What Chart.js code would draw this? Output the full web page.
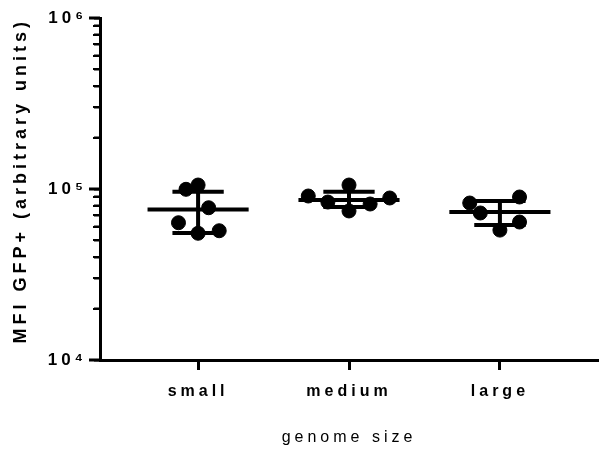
<!DOCTYPE html>
<html>
<head>
<meta charset="utf-8">
<script src="https://cdn.jsdelivr.net/npm/chart.js@4.4.0/dist/chart.umd.min.js"></script>
<style>
html,body{margin:0;padding:0;background:#fff}
#wrap{width:606px;height:452px}
</style>
</head>
<body>
<div id="wrap"><canvas id="chart"></canvas></div>
<script>
// categories on the x axis
const categories = ['small', 'medium', 'large'];

// individual values per group
const smallValues  = [99600, 105500, 77700, 63500, 55100, 57000];
const mediumValues = [91000, 83900, 105500, 74400, 81700, 88600];
const largeValues  = [82800, 72400, 57500, 89800, 64100];

// horizontal scatter of the dots inside each column (category units)
const smallOffsets  = [-0.08, 0.0, 0.07, -0.13, 0.0, 0.14];
const mediumOffsets = [-0.27, -0.14, 0.0, 0.0, 0.14, 0.27];
const largeOffsets  = [-0.2, -0.13, 0.0, 0.13, 0.13];

// mean and mean +/- SD per group
const means   = [76000, 86300, 73400];
const sdUpper = [96300, 96300, 85100];
const sdLower = [55300, 78500, 61600];

// y tick labels (powers of ten)
const yTicks      = [1e4, 1e5, 1e6];
const yTickLabels = ['10⁴', '10⁵', '10⁶'];

////////////

const meanHalf = 0.335;
const capHalf = 0.17;

const groups = [
    {vals: smallValues, offs: smallOffsets},
    {vals: mediumValues, offs: mediumOffsets},
    {vals: largeValues, offs: largeOffsets}
];

var points = [];
groups.forEach((g, i) => {
    g.vals.forEach((v, k) => points.push({x: i + g.offs[k], y: v}));
});

var meanLines = [], bars = [];
for (var i = 0; i < categories.length; i++) {
    meanLines.push({x: i - meanHalf, y: means[i]}, {x: i + meanHalf, y: means[i]}, {x: i, y: null});
    bars.push({x: i, y: sdLower[i]}, {x: i, y: sdUpper[i]}, {x: i, y: null});
    bars.push({x: i - capHalf, y: sdUpper[i]}, {x: i + capHalf, y: sdUpper[i]}, {x: i, y: null});
    bars.push({x: i - capHalf, y: sdLower[i]}, {x: i + capHalf, y: sdLower[i]}, {x: i, y: null});
}

// true when v is 1..9 times a power of ten
function wholeStep(v) {
    const d = Math.pow(10, Math.floor(Math.log10(v) + 1e-9));
    const m = v / d;
    return Math.abs(m - Math.round(m)) < 1e-6;
}

// letter spacing for every text, like the original figure
const spacing = {
    id: 'spacing',
    beforeUpdate(chart) { chart.ctx.letterSpacing = '4px'; },
    beforeDraw(chart) { chart.ctx.letterSpacing = '4px'; }
};

// y tick marks: long on the decades, short for 2..9 in between
const yMarks = {
    id: 'yMarks',
    afterDraw(chart) {
        const s = chart.scales.y, c = chart.ctx;
        c.save();
        c.fillStyle = '#000';
        for (var k = 0; k < yTicks.length; k++) {
            var py = Math.round(s.getPixelForValue(yTicks[k]));
            c.fillRect(s.right - 11, py - 1.5, 11, 3);
            if (k < yTicks.length - 1) {
                for (var m = 2; m <= 9; m++) {
                    py = Math.round(s.getPixelForValue(m * yTicks[k]));
                    c.fillRect(s.right - 7, py - 1, 7, 2);
                }
            }
        }
        c.restore();
    }
};

var ctx = document.getElementById('chart').getContext('2d');
var myChart = new Chart(ctx, {
    type: 'scatter',
    data: {
        datasets: [{
            data: points,
            backgroundColor: '#000',
            borderColor: '#000',
            pointRadius: 7,
            pointHoverRadius: 7
        }, {
            data: meanLines,
            showLine: true,
            spanGaps: false,
            pointRadius: 0,
            borderColor: '#000',
            borderWidth: 4,
            borderCapStyle: 'butt'
        }, {
            data: bars,
            showLine: true,
            spanGaps: false,
            pointRadius: 0,
            borderColor: '#000',
            borderWidth: 4,
            borderCapStyle: 'butt'
        }]
    },
    options: {
        responsive: true,
        maintainAspectRatio: false,
        animation: false,
        layout: {padding: {top: 18, right: 0, left: 0, bottom: 0}},
        plugins: {legend: {display: false}, tooltip: {enabled: false}},
        scales: {
            x: {
                type: 'linear',
                min: -0.65,
                max: 2.65,
                afterBuildTicks: (s) => { s.ticks = categories.map((c, k) => ({value: k})); },
                afterFit: (s) => { s.height = 92; },
                ticks: {
                    autoSkip: false,
                    maxRotation: 0,
                    padding: 12,
                    color: '#000',
                    font: {family: 'Liberation Sans, Arial', size: 16, weight: 'bold'},
                    callback: (v) => categories[v]
                },
                grid: {drawOnChartArea: false, drawTicks: true, tickLength: 10, tickWidth: 3, color: '#000'},
                border: {display: true, width: 3, color: '#000'},
                title: {
                    display: true,
                    text: 'genome size',
                    color: '#000',
                    font: {family: 'Liberation Sans, Arial', size: 16, weight: 'normal'},
                    padding: {top: 0, bottom: 5}
                }
            },
            y: {
                type: 'logarithmic',
                min: 1e4,
                max: 1e6,
                afterFit: (s) => { s.width = 100; },
                ticks: {
                    autoSkip: false,
                    padding: 7,
                    color: '#000',
                    font: {family: 'Liberation Sans, Arial', size: 17, weight: 'bold'},
                    callback: (v) => {
                        const k = yTicks.findIndex(t => Math.abs(t - v) < 1e-6 * t);
                        return k >= 0 ? yTickLabels[k] : '';
                    }
                },
                grid: {
                    display: true,
                    drawOnChartArea: false,
                    drawTicks: true,
                    tickLength: 6,
                    tickWidth: 2,
                    color: '#000',
                    tickColor: (c) => (c.tick && wholeStep(c.tick.value)) ? '#000' : 'rgba(0,0,0,0)'
                },
                border: {display: true, width: 3, color: '#000'},
                title: {
                    display: true,
                    align: 'end',
                    text: 'MFI GFP+ (arbitrary units)',
                    color: '#000',
                    font: {family: 'Liberation Sans, Arial', size: 18, weight: 'bold'},
                    padding: {top: 10, bottom: 0}
                }
            }
        }
    },
    plugins: [spacing, yMarks]
});
</script>
</body>
</html>
